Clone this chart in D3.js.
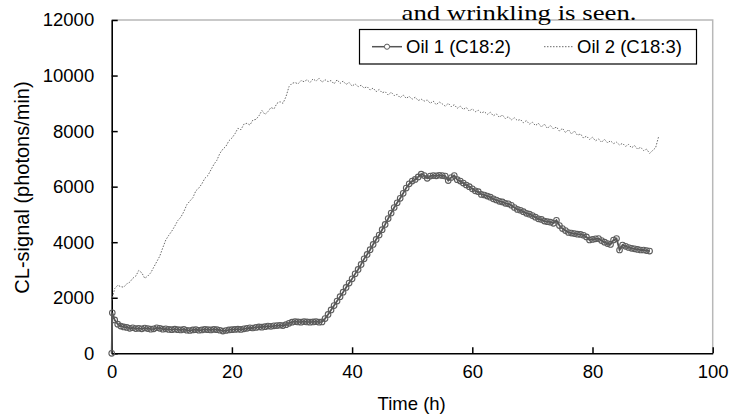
<!DOCTYPE html>
<html>
<head>
<meta charset="utf-8">
<script src="https://cdn.jsdelivr.net/npm/d3@7"></script>
<style>
  html, body { margin: 0; padding: 0; background: #fff; }
  svg { display: block; }
  text { font-family: Arial, "Liberation Sans", sans-serif; fill: #000; }
</style>
</head>
<body>
<svg id="chart" width="731" height="416"></svg>
<script>
// ---- Data ----
const xTicks = [0, 20, 40, 60, 80, 100];
const yTicks = [0, 2000, 4000, 6000, 8000, 10000, 12000];
const seriesNames = ["Oil 1 (C18:2)", "Oil 2 (C18:3)"];
const titleText = "and wrinkling is seen.";
const xLabel = "Time (h)";
const yLabel = "CL-signal (photons/min)";

// Oil 1: first readings, then one reading every 0.5 h from 0.5 h
const oil1StartHours = [0, 0.1];
const oil1StartSignal = [0, 1460];
const oil1FirstHour = 0.5;
const oil1Step = 0.5;
const oil1Signal = [
  1200,1050,980,950,930,900,920,890,900,880,
  910,890,870,880,920,900,870,880,860,850,
  870,850,840,860,830,820,840,850,830,840,
  860,850,840,860,850,830,800,820,840,850,
  860,870,860,880,900,920,910,930,950,940,
  960,980,970,990,1000,1010,1000,1030,1080,1120,
  1140,1130,1120,1140,1130,1120,1130,1140,1120,1130,
  1250,1400,1560,1720,1880,2040,2200,2370,2530,2680,
  2860,3020,3200,3400,3560,3730,3920,4100,4260,4450,
  4640,4850,5050,5250,5420,5580,5760,5950,6100,6200,
  6260,6350,6450,6400,6300,6380,6400,6390,6410,6400,
  6380,6220,6330,6400,6250,6200,6130,6060,6000,5920,
  5850,5820,5720,5700,5660,5620,5560,5520,5470,5450,
  5400,5380,5330,5250,5180,5150,5100,5040,5010,4960,
  4900,4840,4820,4760,4740,4720,4680,4790,4600,4490,
  4420,4350,4330,4310,4290,4280,4250,4190,4080,4100,
  4120,4130,4060,4000,3950,3920,4080,4130,3720,3900,
  3850,3810,3780,3760,3740,3720,3720,3700,3680
];

// Oil 2: one reading every 0.5 h from 0 h
const oil2FirstHour = 0;
const oil2Step = 0.5;
const oil2Signal = [
  1900,2330,2450,2400,2380,2500,2560,2700,2780,2980,
  2900,2700,2780,2900,3100,3300,3500,3800,4080,4250,
  4400,4580,4780,4900,5100,5350,5480,5600,5850,5950,
  6100,6300,6400,6600,6800,6950,7200,7350,7450,7650,
  7750,7900,8100,8050,8250,8280,8220,8400,8420,8550,
  8740,8600,8700,8850,8800,9000,9060,9000,9240,9600,
  9720,9750,9700,9820,9780,9850,9750,9880,9800,9900,
  9760,9850,9780,9820,9700,9850,9720,9800,9680,9750,
  9620,9700,9600,9650,9550,9600,9480,9550,9420,9500,
  9380,9420,9300,9400,9280,9320,9200,9300,9180,9250,
  9150,9220,9100,9150,9080,9120,9000,9080,8950,9050,
  8980,8900,9000,8880,8950,8820,8900,8780,8850,8720,
  8800,8700,8750,8650,8700,8600,8680,8550,8620,8500,
  8580,8450,8520,8400,8480,8380,8420,8300,8380,8250,
  8320,8200,8280,8150,8250,8100,8200,8080,8150,8000,
  8100,7950,8050,7900,8000,7850,7900,7750,7820,7700,
  7780,7650,7720,7600,7700,7580,7650,7550,7600,7500,
  7560,7450,7520,7400,7480,7350,7420,7300,7350,7200,
  7300,7400,7800
];

(function () {
// ---- Build point lists ----
const oil1 = oil1StartHours.map((h, i) => ({ t: h, v: oil1StartSignal[i] }))
  .concat(oil1Signal.map((v, i) => ({ t: oil1FirstHour + i * oil1Step, v })));
const oil2 = oil2Signal.map((v, i) => ({ t: oil2FirstHour + i * oil2Step, v }));

// ---- Layout ----
const svg = d3.select("#chart");
const pL = 111.7, pR = 712.7, pT = 20, pB = 353.3;
const x = d3.scaleLinear().domain([0, 100]).range([pL, pR]);
const y = d3.scaleLinear().domain([0, 12000]).range([pB, pT]);

svg.append("rect").attr("width", 731).attr("height", 416).attr("fill", "#fff");

// plot-area border (top & right, light grey)
svg.append("path")
  .attr("d", `M${pL},${pT}H${pR}V${pB}`)
  .attr("fill", "none").attr("stroke", "#b8b8b8").attr("stroke-width", 1.5);

// Title fragment at top
svg.append("text")
  .attr("x", 519).attr("y", 20)
  .attr("text-anchor", "middle")
  .attr("textLength", 235).attr("lengthAdjust", "spacingAndGlyphs")
  .style("font-family", "'Liberation Serif', 'Times New Roman', serif")
  .style("font-size", "22px")
  .text(titleText);

// Axes
const yAxis = d3.axisLeft(y).tickValues(yTicks).tickFormat(d3.format("d"))
  .tickSizeInner(-6).tickSizeOuter(0).tickPadding(17.5);
const gy = svg.append("g").attr("transform", `translate(${pL},0)`).call(yAxis);

const xAxis = d3.axisBottom(x).tickValues(xTicks).tickFormat(d3.format("d"))
  .tickSizeInner(-6).tickSizeOuter(0).tickPadding(12);
const gx = svg.append("g").attr("transform", `translate(0,${pB})`).call(xAxis);

[gx, gy].forEach(g => {
  g.select(".domain").attr("stroke", "#000").attr("stroke-width", 1.6);
  g.selectAll(".tick line").attr("stroke", "#000").attr("stroke-width", 1.5);
  g.selectAll(".tick text").style("font-size", "18.5px").style("font-family", "Arial, 'Liberation Sans', sans-serif").attr("fill", "#000");
});

// Axis titles
svg.append("text")
  .attr("x", (pL + pR) / 2 - 0.5).attr("y", 410)
  .attr("text-anchor", "middle")
  .style("font-size", "18.5px")
  .text(xLabel);

svg.append("text")
  .attr("transform", `translate(29,187.5) rotate(-90)`)
  .attr("text-anchor", "middle")
  .style("font-size", "20px")
  .text(yLabel);

// Series lines
const line = d3.line().x(d => x(d.t)).y(d => y(d.v));

svg.append("path").datum(oil2)
  .attr("d", line)
  .attr("fill", "none").attr("stroke", "#6a6a6a")
  .attr("stroke-width", 1).attr("stroke-dasharray", "1.5,1.5");

svg.append("path").datum(oil1)
  .attr("d", line)
  .attr("fill", "none").attr("stroke", "#555").attr("stroke-width", 1.8);

svg.append("g").selectAll("circle").data(oil1).join("circle")
  .attr("cx", d => x(d.t)).attr("cy", d => y(d.v)).attr("r", 2.8)
  .attr("fill", "none").attr("stroke", "#5c5c5c").attr("stroke-width", 1.1);

// Legend
const lg = svg.append("g");
lg.append("rect").attr("x", 359.5).attr("y", 29.5).attr("width", 337).attr("height", 34.5)
  .attr("fill", "#fff").attr("stroke", "#000").attr("stroke-width", 1.2);
const ly = 46.7;
lg.append("line").attr("x1", 372).attr("x2", 402).attr("y1", ly).attr("y2", ly)
  .attr("stroke", "#555").attr("stroke-width", 1.5);
lg.append("circle").attr("cx", 387).attr("cy", ly).attr("r", 2.6)
  .attr("fill", "#fff").attr("stroke", "#5c5c5c").attr("stroke-width", 1);
lg.append("text").attr("x", 406).attr("y", ly).attr("dy", "0.35em")
  .style("font-size", "18.5px").text(seriesNames[0]);
lg.append("line").attr("x1", 544).attr("x2", 574).attr("y1", ly).attr("y2", ly)
  .attr("stroke", "#6a6a6a").attr("stroke-width", 1).attr("stroke-dasharray", "1.5,1.5");
lg.append("text").attr("x", 577).attr("y", ly).attr("dy", "0.35em")
  .style("font-size", "18.5px").text(seriesNames[1]);
})();
</script>
</body>
</html>
